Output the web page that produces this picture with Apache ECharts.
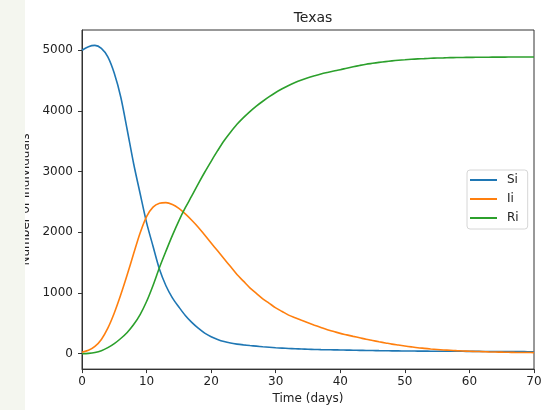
<!DOCTYPE html>
<html>
<head>
<meta charset="utf-8">
<script src="https://cdn.jsdelivr.net/npm/echarts@6/dist/echarts.min.js"></script>
<style>html,body{margin:0;padding:0;background:#fff;}#c{width:558px;height:410px;}</style>
</head>
<body>
<div id="c"></div>
<script>
const titleText = 'Texas';
const xLabel = 'Time (days)';
const yLabel = 'Number of individuals';
const seriesNames = ['Si', 'Ii', 'Ri'];
// one value per day, days 0..70
const days = [0,1,2,3,4,5,6,7,8,9,10,11,12,13,14,15,16,17,18,19,20,21,22,23,24,25,26,27,28,29,30,31,32,33,34,35,36,37,38,39,40,41,42,43,44,45,46,47,48,49,50,51,52,53,54,55,56,57,58,59,60,61,62,63,64,65,66,67,68,69,70];
const susceptible = [5000,5060,5080,5030,4890,4620,4230,3690,3130,2640,2160,1770,1390,1120,920,770,630,515,420,340,280,235,200,175,158,145,134,124,114,106,98,92,86,81,77,73,70,67,65,63,61,59,57,55,53,52,50,49,47,46,45,44,43,42,41,41,40,40,39,39,38,38,37,37,36,35,35,34,34,33,33];
const infected = [25,55,120,235,420,670,970,1300,1650,1990,2260,2415,2480,2490,2460,2395,2305,2200,2085,1955,1825,1695,1565,1435,1305,1195,1085,995,905,830,755,695,635,592,550,510,470,432,395,365,335,310,285,262,238,218,197,177,157,142,127,112,98,88,78,70,62,56,50,45,40,37,34,30,27,25,23,21,20,19,18];
const recovered = [0,5,20,50,100,165,250,350,480,645,860,1125,1420,1690,1950,2190,2405,2600,2800,2990,3170,3345,3510,3650,3780,3890,3990,4080,4160,4235,4305,4365,4420,4468,4510,4548,4580,4610,4635,4658,4680,4705,4728,4750,4770,4785,4800,4813,4825,4835,4843,4851,4858,4863,4868,4872,4875,4878,4880,4882,4883,4884,4885,4886,4887,4887,4888,4889,4889,4890,4890];
const xTicks = [0,10,20,30,40,50,60,70];
const yTicks = [0,1000,2000,3000,4000,5000];
const colors = ['#1f77b4', '#ff7f0e', '#2ca02c'];

const FONT = 'DejaVu Sans';
const values = [susceptible, infected, recovered];
const chart = echarts.init(document.getElementById('c'), null, {renderer: 'canvas'});
chart.setOption({
  animation: false,
  backgroundColor: '#ffffff',
  title: {
    text: titleText, left: 308, top: 6, textAlign: 'center',
    textStyle: {fontFamily: FONT, fontSize: 14, fontWeight: 'normal', color: '#222'}
  },
  grid: {left: 82, right: 24, top: 30, bottom: 40, show: true, borderColor: '#333', borderWidth: 1, backgroundColor: '#fff'},
  legend: {
    orient: 'vertical', left: 467, top: 170,
    data: seriesNames.map(n => ({name: n, icon: 'rect'})),
    itemWidth: 27, itemHeight: 2, itemGap: 7,
    padding: [4, 9, 5, 3],
    backgroundColor: 'rgba(255,255,255,0.8)', borderColor: '#d6d6d6', borderWidth: 1, borderRadius: 3,
    textStyle: {fontFamily: FONT, fontSize: 12, color: '#222', padding: [0, 0, 0, 5]}
  },
  xAxis: {
    type: 'value', min: 0, max: 70, interval: 10,
    name: xLabel, nameLocation: 'middle', nameGap: 22,
    nameTextStyle: {fontFamily: FONT, fontSize: 12, color: '#222'},
    axisLine: {show: true, onZero: false, lineStyle: {color: '#333', width: 1}},
    axisTick: {show: true, inside: false, length: 4, lineStyle: {color: '#333'}},
    axisLabel: {fontFamily: FONT, fontSize: 12, color: '#222', margin: 7, customValues: xTicks},
    splitLine: {show: false}
  },
  yAxis: {
    type: 'value', min: -254, max: 5334,
    name: yLabel, nameLocation: 'middle', nameGap: 47,
    nameTextStyle: {fontFamily: FONT, fontSize: 12, color: '#222'},
    axisLine: {show: true, onZero: false, lineStyle: {color: '#333', width: 1}},
    axisTick: {show: true, inside: false, length: 4, lineStyle: {color: '#333'}, customValues: yTicks},
    axisLabel: {fontFamily: FONT, fontSize: 12, color: '#222', margin: 9, customValues: yTicks,
      formatter: v => String(Math.round(v))},
    splitLine: {show: false}
  },
  series: seriesNames.map((n, i) => ({
    name: n, type: 'line', smooth: 0.3, symbol: 'none',
    lineStyle: {color: colors[i], width: 1.6},
    itemStyle: {color: colors[i]},
    data: days.map((d, k) => [d, values[i][k]])
  })),
  graphic: [{
    type: 'rect', z: 100, left: 0, top: 0,
    shape: {x: 0, y: 0, width: 25, height: 410},
    style: {fill: '#f4f6ef'}
  }]
});
</script>
</body>
</html>
